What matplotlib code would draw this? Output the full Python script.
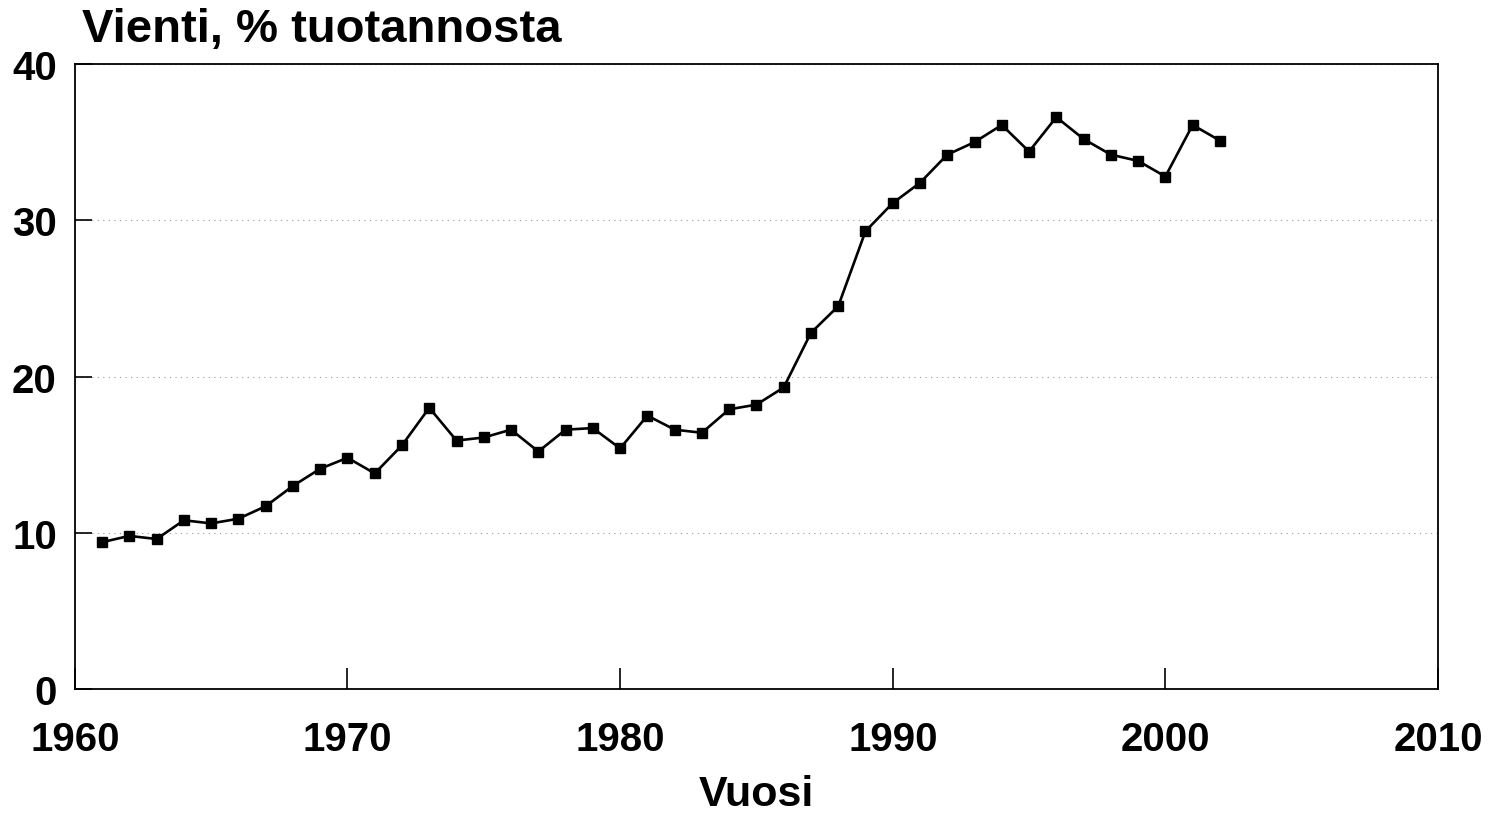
import matplotlib
matplotlib.use("Agg")
import matplotlib.pyplot as plt

plt.rcParams['font.family'] = ['Liberation Sans', 'DejaVu Sans']
plt.rcParams['font.weight'] = 'bold'

years = list(range(1961, 2003))
export_share = [
    9.4, 9.8, 9.6, 10.8, 10.6, 10.9, 11.7, 13.0, 14.1, 14.8,
    13.8, 15.6, 18.0, 15.9, 16.1, 16.6, 15.2, 16.6, 16.7, 15.4,
    17.5, 16.6, 16.4, 17.9, 18.2, 19.3, 22.8, 24.5, 29.3, 31.1,
    32.4, 34.2, 35.0, 36.1, 34.4, 36.6, 35.2, 34.2, 33.8, 32.8,
    36.1, 35.1,
]
x_ticks = [1960, 1970, 1980, 1990, 2000, 2010]
y_ticks = [0, 10, 20, 30, 40]

fig = plt.figure(figsize=(14.97, 8.2), dpi=100)
ax = fig.add_axes([0.050, 0.1585, 0.9106, 0.7622])

ax.plot(years, export_share, color='black', lw=1.9, marker='s', ms=7,
        mec='black', mfc='black')

ax.set_xlim(1960, 2010)
ax.set_ylim(0, 40)
ax.set_xticks(x_ticks)
ax.set_yticks(y_ticks)
ax.grid(axis='y', linestyle=(0, (1, 4)), color='#999999', lw=0.8)
ax.tick_params(axis='both', direction='in', labelsize=29, width=1.2)
ax.tick_params(axis='x', length=15, pad=22)
ax.tick_params(axis='y', length=12, pad=13)
for lbl in ax.get_xticklabels() + ax.get_yticklabels():
    lbl.set_fontweight('bold')
for s in ax.spines.values():
    s.set_linewidth(1.3)

ax.set_xlabel("Vuosi", fontsize=31, fontweight='bold', labelpad=12)
fig.text(0.055, 0.99, "Vienti, % tuotannosta", fontsize=34,
         fontweight='bold', ha='left', va='top')

fig.savefig("out.png", dpi=100)
